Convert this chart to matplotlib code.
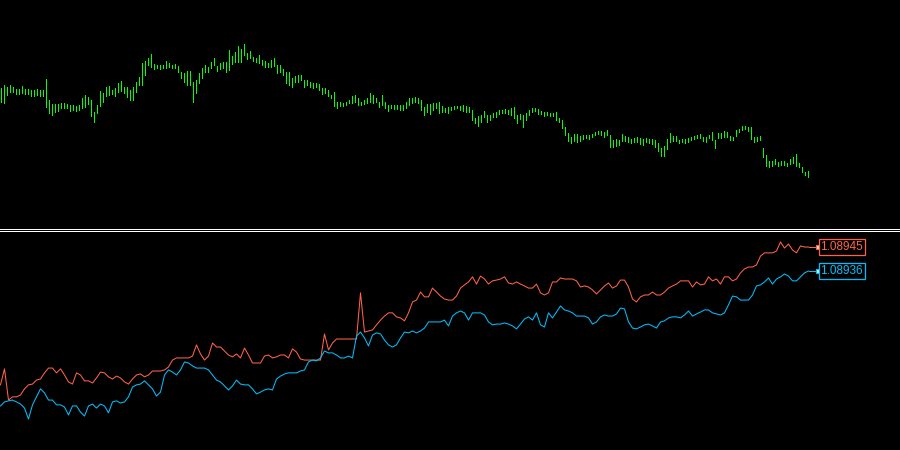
import numpy as np
import matplotlib
matplotlib.use("Agg")
import matplotlib.pyplot as plt
from matplotlib.lines import Line2D

# upper pane: bar highs / lows in pips above 1.0800
top_base = 1.0800
top_high_pips = [
    112, 115, 113, 115, 113, 111, 111, 114, 111, 111,
    110, 110, 111, 110, 110, 121, 100, 96, 96, 96,
    97, 97, 96, 95, 95, 94, 95, 102, 105, 103,
    100, 88, 95, 109, 107, 113, 114, 110, 112, 117,
    119, 113, 113, 110, 113, 118, 123, 137, 139, 142,
    146, 136, 135, 135, 135, 139, 137, 135, 136, 134,
    128, 127, 129, 129, 118, 120, 127, 132, 135, 133,
    138, 142, 134, 137, 138, 138, 150, 144, 148, 154,
    151, 156, 147, 149, 143, 142, 145, 140, 139, 137,
    140, 142, 135, 135, 131, 128, 128, 122, 124, 125,
    125,
    120, 120, 118, 117, 117, 116, 112, 112, 110, 105,
    108, 98, 98, 97, 98, 100, 104, 105, 102, 98,
    100, 102, 107, 105, 102, 98, 105, 98, 95, 95,
    95, 95, 95, 95, 98, 102, 102, 103, 102, 100,
    93, 96, 96, 97, 97, 98, 94, 92, 93, 93,
    94, 94, 94, 95, 94, 93, 90, 82, 84, 85,
    89, 85, 85, 87, 88, 90, 90, 91, 90, 92,
    93, 85, 86, 85, 87, 90, 92, 92, 91, 89,
    88, 88, 87, 87, 88, 82, 80, 73, 67, 63,
    66, 66, 64, 65, 65, 65, 66, 68, 69, 69,
    68, 70, 65, 60, 61, 60, 66, 64, 63, 61,
    62, 63, 62, 61, 62, 61, 61, 60, 57, 52,
    54, 61, 67, 64, 64, 60, 61, 61, 62, 63,
    64, 65, 66, 63, 63, 65, 68, 60, 67, 67,
    69, 68, 64, 63, 70, 71, 74, 74, 73, 73,
    63, 63, 64, 52, 45, 39, 39, 41, 38, 39,
    39, 37, 41, 43, 46, 37, 33, 28, 29,
]
top_low_pips = [
    98, 97, 105, 108, 108, 106, 106, 107, 106, 106,
    104, 104, 105, 104, 104, 93, 87, 85, 88, 89,
    92, 92, 92, 89, 90, 89, 90, 92, 93, 96,
    84, 78, 87, 94, 98, 104, 105, 106, 104, 108,
    109, 107, 103, 100, 100, 108, 115, 115, 125, 135,
    133, 131, 132, 131, 132, 132, 133, 132, 132, 128,
    122, 118, 115, 115, 98, 107, 117, 122, 128, 128,
    132, 135, 129, 131, 132, 128, 130, 136, 138, 138,
    138, 145, 141, 142, 139, 138, 137, 135, 133, 133,
    133, 134, 127, 128, 125, 117, 115, 113, 118, 118,
    120,
    113, 115, 113, 112, 113, 110, 106, 107, 104, 102,
    94, 92, 94, 94, 95, 97, 97, 98, 95, 95,
    96, 97, 98, 97, 98, 93, 95, 92, 89, 92,
    91, 91, 90, 90, 92, 95, 97, 98, 97, 90,
    85, 88, 86, 90, 92, 87, 88, 88, 87, 90,
    91, 92, 90, 89, 88, 88, 80, 77, 74, 78,
    83, 78, 80, 83, 83, 86, 87, 87, 86, 85,
    82, 77, 81, 73, 80, 85, 88, 89, 86, 86,
    84, 85, 84, 84, 80, 78, 72, 65, 59, 57,
    59, 58, 59, 61, 62, 61, 63, 65, 66, 65,
    63, 65, 53, 53, 54, 55, 59, 59, 58, 57,
    58, 58, 56, 55, 58, 57, 56, 53, 49, 44,
    44, 51, 58, 59, 59, 57, 58, 57, 58, 60,
    61, 62, 62, 59, 58, 62, 60, 52, 62, 62,
    63, 63, 60, 60, 64, 68, 70, 71, 69, 61,
    58, 59, 60, 43, 34, 33, 34, 36, 34, 35,
    35, 34, 36, 37, 34, 33, 28, 25, 23,
]

# lower pane: two closes in points above 1.08800
low_base = 1.08800
red_pts = [
    93.3, 99.3, 87.6, 88.8, 88.8, 89.5, 91.8, 93.3, 93.6, 95.1,
    95.5, 97.8, 99.6, 99.6, 97.8, 99.3, 97.0, 94.4, 93.6, 97.8,
    97.0, 94.8, 94.8, 94.0, 95.9, 98.1, 97.8, 96.3, 95.5, 96.6,
    95.9, 94.4, 93.6, 95.5, 97.0, 97.4, 96.3, 97.0, 98.5, 98.5,
    98.5, 98.9, 100.0, 102.6, 103.4, 103.4, 103.4, 103.4, 104.1, 108.3,
    104.9, 102.6, 104.1, 109.0, 107.5, 107.5, 106.0, 104.5, 103.8, 104.9,
    103.4, 107.1, 104.5, 101.5, 101.5, 101.5, 104.1, 104.5, 103.4, 103.8,
    104.5, 104.5, 103.4, 106.8, 105.6, 103.0, 102.6, 102.6, 102.6, 102.6,
    102.6, 112.4, 106.4, 109.0, 110.5, 110.5, 110.5, 110.5, 110.5, 110.5,
    127.8, 113.1, 113.5, 113.9, 115.8, 117.6, 119.1, 120.3, 120.3, 118.8,
    118.4, 117.3, 120.3, 124.4, 125.1, 128.1, 126.3, 126.3, 129.6, 128.1,
    126.6, 125.5, 125.1, 125.1, 126.6, 129.6, 130.8, 131.9, 133.8, 131.1,
    134.1, 133.0, 131.1, 132.3, 132.6, 133.0, 133.8, 131.5, 131.1, 131.9,
    131.1, 130.4, 129.6, 129.6, 131.1, 127.8, 127.0, 127.8, 131.9, 131.9,
    133.4, 133.0, 133.0, 133.0, 132.3, 130.0, 130.4, 130.0, 128.9, 127.4,
    128.9, 130.4, 131.5, 129.6, 130.4, 132.6, 132.6, 130.0, 125.5, 124.4,
    126.3, 127.0, 127.0, 128.1, 127.0, 127.0, 128.1, 129.6, 130.4, 131.1,
    132.3, 132.3, 132.3, 130.0, 131.9, 130.8, 131.1, 133.8, 132.3, 133.0,
    131.1, 133.8, 133.8, 132.3, 133.0, 135.3, 136.8, 137.5, 137.5, 138.3,
    141.6, 142.8, 142.8, 142.8, 143.5, 146.9, 144.6, 146.1, 143.9, 142.8,
    145.4, 145.0, 145.0,
]
blue_pts = [
    85.4, 86.9, 87.3, 87.6, 86.9, 86.1, 84.6, 80.5, 85.8, 88.8,
    91.8, 90.3, 87.6, 87.6, 85.8, 85.8, 85.0, 82.0, 85.4, 85.4,
    83.1, 81.6, 85.4, 86.1, 84.6, 86.1, 85.4, 82.8, 86.9, 87.3,
    86.5, 86.9, 88.8, 92.5, 93.3, 93.6, 94.8, 93.3, 91.8, 89.1,
    90.6, 97.0, 98.9, 98.1, 97.0, 98.9, 101.9, 101.5, 100.4, 99.6,
    99.6, 99.6, 98.9, 97.0, 95.1, 94.4, 92.9, 91.4, 92.9, 95.1,
    93.6, 93.3, 93.3, 91.8, 89.9, 90.6, 91.4, 91.8, 91.4, 95.5,
    96.6, 97.4, 97.8, 97.8, 97.8, 98.5, 98.9, 101.9, 102.6, 102.3,
    103.4, 106.0, 105.3, 105.3, 104.5, 103.4, 103.4, 104.1, 103.4, 111.6,
    113.1, 110.9, 107.9, 112.0, 112.8, 112.4, 110.1, 108.3, 107.5, 108.3,
    110.9, 113.1, 112.8, 113.5, 112.8, 113.5, 114.6, 116.9, 116.9, 116.9,
    116.9, 117.6, 115.4, 119.1, 120.3, 121.0, 120.3, 117.6, 120.3, 120.3,
    120.3, 119.5, 116.9, 115.8, 116.1, 116.1, 116.5, 116.1, 115.4, 114.3,
    116.1, 118.0, 118.8, 117.6, 120.3, 115.8, 115.0, 120.3, 118.4, 120.6,
    122.9, 121.4, 121.0, 120.3, 119.1, 119.1, 119.1, 118.4, 116.1, 116.9,
    118.8, 119.5, 119.1, 119.1, 119.9, 122.1, 121.8, 116.9, 114.6, 114.3,
    115.0, 115.8, 116.1, 115.4, 114.6, 116.9, 117.3, 118.4, 118.8, 118.8,
    118.4, 119.5, 121.0, 119.1, 119.9, 120.6, 121.4, 121.4, 120.3, 119.9,
    119.5, 120.3, 123.3, 126.6, 126.3, 125.1, 125.1, 125.1, 127.0, 130.4,
    130.8, 131.9, 133.4, 131.1, 133.0, 133.8, 134.9, 134.1, 132.3, 132.3,
    133.8, 135.3, 136.0,
]

GREEN = "#00ff00"
RED = "#ff6347"
BLUE = "#00bfff"

W, H = 900, 450
fig = plt.figure(figsize=(W / 100, H / 100), dpi=100, facecolor="black")

ax_top = fig.add_axes([0, 1 - 228 / H, 1, 228 / H])
ax_bot = fig.add_axes([0, 0, 1, 219 / H])
for ax in (ax_top, ax_bot):
    ax.set_facecolor("black")
    ax.set_xticks([])
    ax.set_yticks([])
    for s in ax.spines.values():
        s.set_visible(False)

# price bars, 3 px apart
hi = top_base + np.array(top_high_pips) / 1e4
lo = top_base + np.array(top_low_pips) / 1e4
xb = np.arange(len(hi))
ax_top.vlines(xb, lo, hi, colors=GREEN, linewidth=0.72, antialiased=False)
ax_top.set_xlim(-0.5 / 3, (W - 0.5) / 3)
ax_top.set_ylim(top_base - 0.0028, top_base + 0.0200)

# two lines, 4 px apart
red = low_base + np.array(red_pts) / 1e5
blue = low_base + np.array(blue_pts) / 1e5
ax_bot.plot(np.arange(len(red)), red, color=RED, lw=0.75)
ax_bot.plot(np.arange(len(blue)), blue, color=BLUE, lw=0.75)
ax_bot.set_xlim(-0.5 / 4, (W - 0.5) / 4)
ax_bot.set_ylim(low_base + 68.875 / 1e5, low_base + 151.0 / 1e5)

# last value tags
for series, col in ((red, RED), (blue, BLUE)):
    xl = len(series) - 1
    ax_bot.plot([xl, xl + 2.2], [series[-1]] * 2, color=col, lw=0.75)
    ax_bot.plot(xl + 2.3, series[-1], marker="s", ms=3, mec=col, mfc="#ffe8e0",
                mew=0.8)
    ax_bot.text(xl + 3.0, series[-1], f"{series[-1]:.5f}", color=col,
                fontsize=8.5, family=["Liberation Sans Narrow", "Liberation Sans"],
                ha="left", va="center",
                bbox=dict(boxstyle="square,pad=0.15", fc="black", ec=col, lw=0.9))

# double separator between panes
for yy in (228.5, 230.5):
    fig.add_artist(Line2D([0, 1], [1 - yy / H] * 2, color="white", lw=0.72,
                          antialiased=False))

fig.savefig("out.png", dpi=100, facecolor="black")
